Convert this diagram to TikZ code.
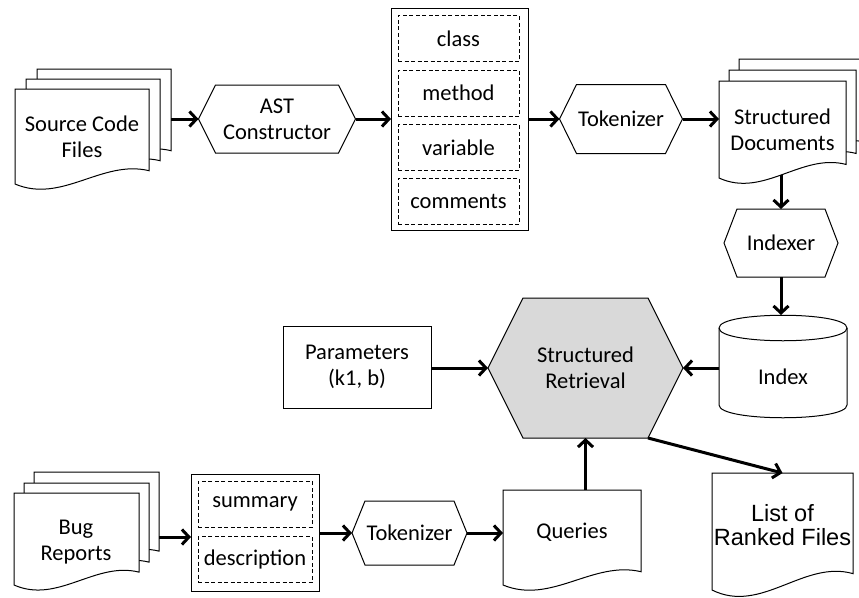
\documentclass[tikz,border=0pt]{standalone}
\usepackage{fontspec}
\setmainfont{Carlito}
\newfontfamily\arialfont{Liberation Sans}
\usetikzlibrary{arrows.meta}

% page with a wavy foot: left x, top y, width, height
\newcommand\docpage[4]{\filldraw[fill=white] (#1,#2) -- ({#1+#3},#2) -- ({#1+#3},{#2+0.86*#4}) .. controls ({#1+0.65*#3},{#2+0.74*#4}) and ({#1+0.35*#3},{#2+1.21*#4}) .. (#1,{#2+#4}) -- cycle;}
% flat hexagon: centre x, centre y, width, height, depth of the points
\newcommand\hexa[6][fill=white]{\filldraw[#1] ({#2-#4/2},#3) -- ({#2-#4/2+#6},{#3-#5/2}) -- ({#2+#4/2-#6},{#3-#5/2}) -- ({#2+#4/2},#3) -- ({#2+#4/2-#6},{#3+#5/2}) -- ({#2-#4/2+#6},{#3+#5/2}) -- cycle;}

\tikzset{
  every node/.style={align=center, inner sep=0pt, outer sep=0pt, font=\fontsize{22.5}{26}\selectfont},
  sized/.style 2 args={minimum width=#1, minimum height=#2},
  plainbox/.style 2 args={draw, fill=white, sized={#1}{#2}},
  fieldbox/.style={draw, dash pattern=on 4pt off 2.5pt, line width=0.8pt, sized={#1}{46}},
  flow/.style={line width=3pt, -{Straight Barb[length=7pt,width=15pt]}}
}

\begin{document}
\begin{tikzpicture}[x=1pt, y=-1pt, line width=1pt]
\useasboundingbox (0,0) rectangle (859,597);

% source side
\docpage{37}{69}{134}{95}
\docpage{26}{79}{134}{95}
\docpage{15}{89}{134}{95}
\node (src) at (82,137) [sized={134}{80}] {Source Code\\Files};
\coordinate (srcout) at (171,119);

\hexa{277}{119}{157}{68}{17}
\node (ast) at (277,119) [sized={157}{68}] {AST\\Constructor};

\node (fields) at (459.5,119) [plainbox={137}{222}] {};
\node (class) at (458.5,38.5) [fieldbox=121] {class};
\node (method) at (458.5,93) [fieldbox=121] {method};
\node (variable) at (458.5,147.5) [fieldbox=121] {variable};
\node (comments) at (458.5,201) [fieldbox=121] {comments};

\hexa{621}{119}{123}{69}{17}
\node (tok) at (621,119) [sized={123}{69}] {Tokenizer};

\docpage{739}{59}{127}{97}
\docpage{729}{70}{127}{97}
\docpage{719}{81}{127}{97}
\node (docs) at (782.5,130) [sized={127}{90}] {Structured\\Documents};

\hexa{781}{243}{114}{68}{13}
\node (idxr) at (781,243) [sized={114}{68}] {Indexer};

% index store
\filldraw[fill=white] (719,328) -- (719,405) .. controls (719,422) and (847,422) .. (847,405) -- (847,328);
\draw (719,328) .. controls (719,311) and (847,311) .. (847,328) .. controls (847,345) and (719,345) .. (719,328);
\node (index) at (783,377) [sized={128}{80}] {Index};
\coordinate (idxtop) at (781,315);

% retrieval
\hexa[fill=gray!30]{585.5}{368}{195}{140}{35}
\node (retr) at (585.5,368) [sized={195}{140}] {Structured\\Retrieval};
\node (params) at (357,367) [plainbox={148}{82}] {Parameters\\(k1, b)};

% bug report side
\docpage{34}{472}{125}{92}
\docpage{24}{483}{125}{92}
\docpage{14}{493}{125}{92}
\node (bug) at (76,542) [sized={125}{80}] {Bug\\Reports};
\coordinate (bugout) at (159,537);

\node (report) at (255,532.5) [plainbox={128}{117}] {};
\node (summary) at (255,504) [fieldbox=114] {summary};
\node (descr) at (255,559.5) [fieldbox=114] {description};

\hexa{409.5}{533}{115}{64}{13}
\node (tok2) at (409.5,533) [sized={115}{64}] {Tokenizer};

\docpage{503}{490}{138}{95}
\node (queries) at (572,532) [sized={138}{84}] {Queries};

\docpage{712}{473}{141}{117}
\node (ranked) at (782.5,525) [sized={141}{104}, font=\arialfont\fontsize{23.5}{24}\selectfont] {List of\\Ranked Files};

% arrows
\draw[flow] (srcout) -- (ast.west);
\draw[flow] (ast.east) -- (fields.west |- ast.east);
\draw[flow] (fields.east |- tok.west) -- (tok.west);
\draw[flow] (tok.east) -- (docs.west |- tok.east);
\draw[flow] (docs.south -| idxr.north) -- (idxr.north);
\draw[flow] (idxr.south) -- (idxtop);
\draw[flow] (index.west |- retr.east) -- (retr.east);
\draw[flow] (params.east |- retr.west) -- (retr.west);
\draw[flow] (bugout) -- (report.west |- bugout);
\draw[flow] (report.east |- tok2.west) -- (tok2.west);
\draw[flow] (tok2.east) -- (queries.west |- tok2.east);
\draw[flow] (retr.south |- queries.north) -- (retr.south);
\draw[flow] ([xshift=-35pt]retr.south east) -- (ranked.north);
\end{tikzpicture}
\end{document}
